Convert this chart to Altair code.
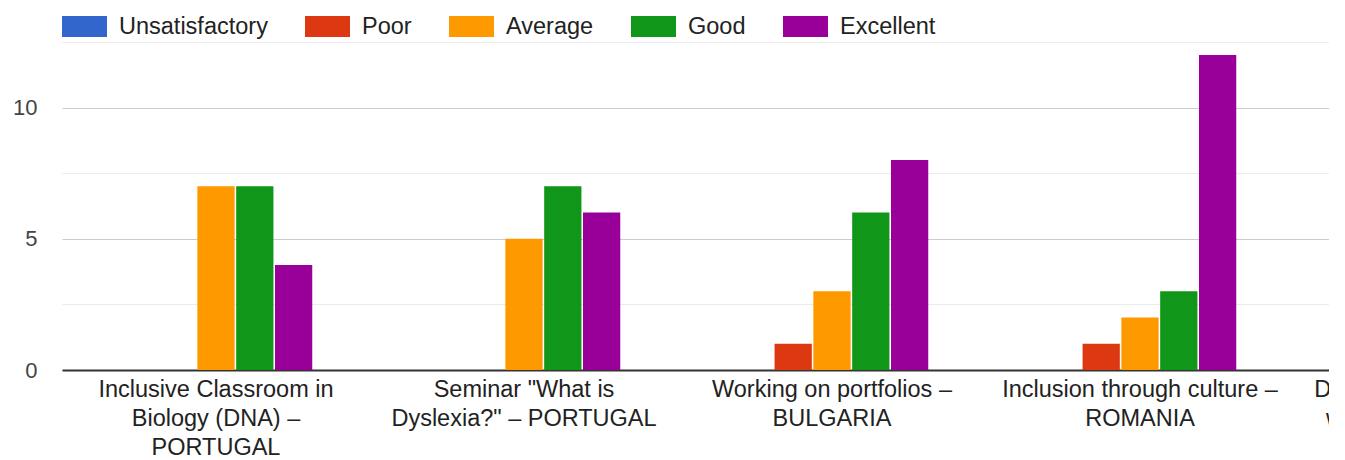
import altair as alt
import pandas as pd

# ---- data ----
activities = [
    "Inclusive Classroom in|Biology (DNA) –|PORTUGAL",
    'Seminar "What is|Dyslexia?" – PORTUGAL',
    "Working on portfolios –|BULGARIA",
    "Inclusion through culture –|ROMANIA",
    "Differentiated instruction -|workshop - LITHUANIA",
]
ratings = ["Unsatisfactory", "Poor", "Average", "Good", "Excellent"]
colors = ["#3366cc", "#dc3912", "#ff9900", "#109618", "#990099"]

unsatisfactory = [0, 0, 0, 0]
poor = [0, 0, 1, 1]
average = [7, 5, 3, 2]
good = [7, 7, 6, 3]
excellent = [4, 6, 8, 12]

y_ticks = [0, 2.5, 5, 7.5, 10, 12.5]

series = [unsatisfactory, poor, average, good, excellent]
rows = []
for rating, vals in zip(ratings, series):
    for act, v in zip(activities, vals):
        rows.append({"activity": act, "rating": rating, "count": v})
df = pd.DataFrame(rows)

FONT = "Liberation Sans"

chart = (
    alt.Chart(df)
    .mark_bar()
    .encode(
        x=alt.X(
            "activity:N",
            sort=activities,
            scale=alt.Scale(domain=activities, range=[0, 1540],
                            paddingInner=0.375, paddingOuter=0.1875),
            axis=alt.Axis(
                title=None,
                labelExpr="split(datum.label, '|')",
                labelAngle=0,
                labelAlign="center",
                labelBaseline="top",
                labelLimit=0,
                labelOverlap=False,
                labelFlush=False,
                labelBound=False,
                labelPadding=7,
                labelLineHeight=29,
                labelFont=FONT,
                labelFontSize=23.5,
                labelColor="#222222",
                ticks=False,
                grid=False,
                domain=True,
                domainColor="#333333",
                domainWidth=2,
            ),
        ),
        xOffset=alt.XOffset(
            "rating:N",
            sort=ratings,
            scale=alt.Scale(domain=ratings, paddingInner=0.04, paddingOuter=0),
        ),
        y=alt.Y(
            "count:Q",
            scale=alt.Scale(domain=[0, 12.5], nice=False, zero=True),
            axis=alt.Axis(
                title=None,
                values=y_ticks,
                labelExpr="datum.value % 5 === 0 ? datum.label : ''",
                ticks=False,
                domain=False,
                grid=True,
                gridColor={"expr": "datum.value % 5 === 0 ? '#cccccc' : '#ebebeb'"},
                gridWidth=1,
                labelPadding=25,
                labelFont=FONT,
                labelFontSize=22,
                labelColor="#444444",
            ),
        ),
        color=alt.Color(
            "rating:N",
            sort=ratings,
            scale=alt.Scale(domain=ratings, range=colors),
            legend=alt.Legend(
                title=None,
                orient="none",
                direction="horizontal",
                legendX=0,
                legendY=-38,
                padding=0,
                symbolType="M-1,-0.467H1V0.467H-1Z",
                symbolSize=2025,
                symbolStrokeWidth=0,
                symbolOpacity=1,
                labelOffset=12,
                columnPadding=37,
                labelFont=FONT,
                labelFontSize=23.5,
                labelColor="#222222",
            ),
        ),
    )
    .properties(
        width=1267,
        height=328,
        autosize=alt.AutoSizeParams(type="none"),
        padding={"left": 54, "top": 34, "right": 0, "bottom": 88},
    )
    .configure_view(stroke=None)
)

chart.save("out.html", embed_options={"renderer": "svg", "actions": False})
